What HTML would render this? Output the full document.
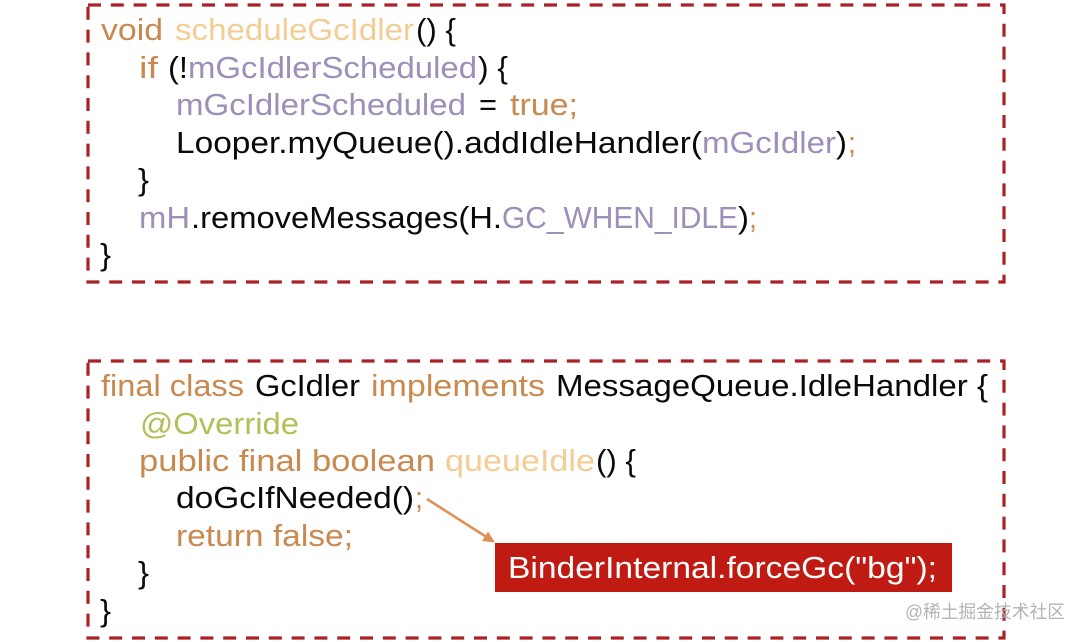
<!DOCTYPE html>
<html><head><meta charset="utf-8"><style>
html,body{margin:0;padding:0;background:#fff;width:1084px;height:642px;overflow:hidden}
svg{display:block}
text{font-family:"Liberation Sans","Noto Sans CJK SC",sans-serif;font-size:31px;white-space:pre}
.k{fill:#c9894f}.n{fill:#f3cd94}.v{fill:#9d8fb8}.b{fill:#0a0a0a}.a{fill:#b5bf57}
</style></head><body>
<svg width="1084" height="642" viewBox="0 0 1084 642" xmlns="http://www.w3.org/2000/svg">
<rect width="1084" height="642" fill="#fff"/>
<rect x="88" y="5" width="916" height="277" fill="none" stroke="#ab2226" stroke-width="3.2" stroke-dasharray="13 9.8"/>
<rect x="88" y="361" width="916" height="277" fill="none" stroke="#ab2226" stroke-width="3.2" stroke-dasharray="13 9.8"/>
<text x="101" y="40" class="k" textLength="62" lengthAdjust="spacingAndGlyphs">void</text>
<text x="175" y="40" class="n" textLength="239" lengthAdjust="spacingAndGlyphs">scheduleGcIdler</text>
<text x="416" y="40" class="b" textLength="40" lengthAdjust="spacingAndGlyphs">() {</text>
<text x="139" y="78" class="k" textLength="19" lengthAdjust="spacingAndGlyphs">if</text>
<text x="168" y="78" class="b" textLength="20" lengthAdjust="spacingAndGlyphs">(!</text>
<text x="188" y="78" class="v" textLength="289" lengthAdjust="spacingAndGlyphs">mGcIdlerScheduled</text>
<text x="478" y="78" class="b" textLength="30" lengthAdjust="spacingAndGlyphs">) {</text>
<text x="176" y="115" class="v" textLength="290" lengthAdjust="spacingAndGlyphs">mGcIdlerScheduled</text>
<text x="479" y="115" class="b" textLength="18" lengthAdjust="spacingAndGlyphs">=</text>
<text x="510" y="115" class="k" textLength="68" lengthAdjust="spacingAndGlyphs">true;</text>
<text x="176" y="153" class="b" textLength="526" lengthAdjust="spacingAndGlyphs">Looper.myQueue().addIdleHandler(</text>
<text x="702" y="153" class="v" textLength="134" lengthAdjust="spacingAndGlyphs">mGcIdler</text>
<text x="836" y="153" class="b" textLength="11" lengthAdjust="spacingAndGlyphs">)</text>
<text x="848" y="153" class="k" textLength="8" lengthAdjust="spacingAndGlyphs">;</text>
<text x="138" y="190" class="b" textLength="11" lengthAdjust="spacingAndGlyphs">}</text>
<text x="139" y="228" class="v" textLength="51" lengthAdjust="spacingAndGlyphs">mH</text>
<text x="191" y="228" class="b" textLength="311" lengthAdjust="spacingAndGlyphs">.removeMessages(H.</text>
<text x="502" y="228" class="v" textLength="236" lengthAdjust="spacingAndGlyphs">GC_WHEN_IDLE</text>
<text x="738" y="228" class="b" textLength="11" lengthAdjust="spacingAndGlyphs">)</text>
<text x="749" y="228" class="k" textLength="8" lengthAdjust="spacingAndGlyphs">;</text>
<text x="100" y="265" class="b" textLength="11" lengthAdjust="spacingAndGlyphs">}</text>
<text x="101" y="396" class="k" textLength="143" lengthAdjust="spacingAndGlyphs">final class</text>
<text x="255" y="396" class="b" textLength="105" lengthAdjust="spacingAndGlyphs">GcIdler</text>
<text x="371" y="396" class="k" textLength="174" lengthAdjust="spacingAndGlyphs">implements</text>
<text x="556" y="396" class="b" textLength="432" lengthAdjust="spacingAndGlyphs">MessageQueue.IdleHandler {</text>
<text x="140" y="434" class="a" textLength="159" lengthAdjust="spacingAndGlyphs">@Override</text>
<text x="139" y="471" class="k" textLength="296" lengthAdjust="spacingAndGlyphs">public final boolean</text>
<text x="445" y="471" class="n" textLength="150" lengthAdjust="spacingAndGlyphs">queueIdle</text>
<text x="596" y="471" class="b" textLength="40" lengthAdjust="spacingAndGlyphs">() {</text>
<text x="176" y="508" class="b" textLength="238" lengthAdjust="spacingAndGlyphs">doGcIfNeeded()</text>
<text x="415" y="508" class="k" textLength="8" lengthAdjust="spacingAndGlyphs">;</text>
<text x="176" y="546" class="k" textLength="177" lengthAdjust="spacingAndGlyphs">return false;</text>
<text x="138" y="583" class="b" textLength="11" lengthAdjust="spacingAndGlyphs">}</text>
<text x="100" y="621" class="b" textLength="11" lengthAdjust="spacingAndGlyphs">}</text>
<line x1="427" y1="499" x2="488" y2="538" stroke="#e0915a" stroke-width="2.6"/>
<polygon points="495,542.5 482,541 488,531.5" fill="#e0915a"/>
<rect x="495" y="543" width="457" height="49" fill="#bf1b12"/>
<text x="508" y="578" fill="#fff" textLength="429" lengthAdjust="spacingAndGlyphs">BinderInternal.forceGc("bg");</text>
<text x="905" y="618" fill="#b4b4b4" style="font-size:18px" textLength="160" lengthAdjust="spacingAndGlyphs">@稀土掘金技术社区</text>
</svg>
</body></html>
